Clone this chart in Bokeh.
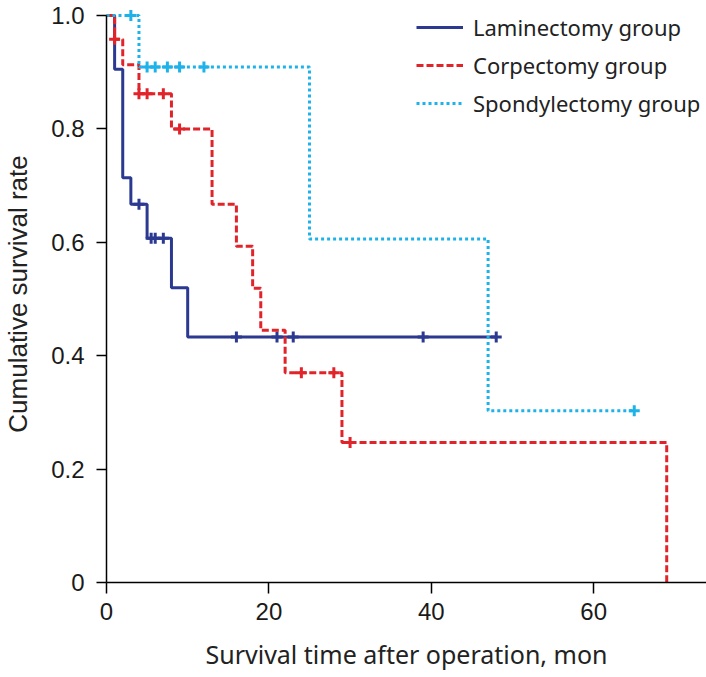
import numpy as np
from bokeh.plotting import figure
from bokeh.models import Range1d, FixedTicker, Legend, LegendItem
from bokeh.embed import file_html
from bokeh.resources import INLINE

# Kaplan-Meier step data (event times and survival after each step)
lam_t = [0, 1, 2, 3, 5, 8, 10, 48]
lam_s = [1.0, 0.905, 0.714, 0.667, 0.607, 0.520, 0.433, 0.433]
lam_cens = [4, 5.5, 6, 7, 16, 21, 23, 39, 48]

cor_t = [0, 1, 2, 4, 8, 13, 16, 18, 19, 22, 29, 69]
cor_s = [1.0, 0.958, 0.913, 0.862, 0.800, 0.667, 0.593, 0.519, 0.445, 0.370, 0.247, 0.0]
cor_cens = [1, 4, 5, 7, 9, 24, 28, 30]

spo_t = [0, 4, 25, 47, 65]
spo_s = [1.0, 0.909, 0.606, 0.303, 0.303]
spo_cens = [3, 5, 6, 7.5, 9, 12, 65]

labels = ["Laminectomy group", "Corpectomy group", "Spondylectomy group"]
x_ticks = [0, 20, 40, 60]
y_ticks = [0, 0.2, 0.4, 0.6, 0.8, 1.0]

TICKFONT = "Liberation Sans"
TEXTFONT = "Noto Sans"
colors = ["#2b3990", "#e0242a", "#1db2ea"]
dashes = ["solid", "7 3", "3 3"]

p = figure(width=706, height=677, output_backend="svg", toolbar_location=None,
           x_range=Range1d(0, 73.9), y_range=Range1d(0, 1.0176),
           min_border_left=105, min_border_right=0, min_border_top=5, min_border_bottom=95)
p.xgrid.visible = False
p.ygrid.visible = False
p.outline_line_color = None
p.background_fill_color = "white"

def surv_at(ts, ss, t):
    idx = np.searchsorted(np.array(ts), t, side="right") - 1
    return ss[idx]

items = []
for (ts, ss, cs), col, dash, lab in zip(
        [(lam_t, lam_s, lam_cens), (cor_t, cor_s, cor_cens), (spo_t, spo_s, spo_cens)],
        colors, dashes, labels):
    r = p.step(ts, ss, mode="after", line_color=col, line_width=3, line_dash=dash)
    cy = [surv_at(ts, ss, c) for c in cs]
    p.scatter(cs, cy, marker="cross", size=11, line_color=col, line_width=3)
    items.append(LegendItem(label=lab, renderers=[r]))

legend = Legend(items=items, location=(310, 464), padding=0, margin=0,
                border_line_color=None, background_fill_alpha=0,
                glyph_width=47, glyph_height=20, label_height=20, spacing=8,
                label_standoff=10, label_text_font=TEXTFONT, label_text_font_size="22px",
                label_text_color="#222222")
p.add_layout(legend, "center")

for ax in (p.xaxis[0], p.yaxis[0]):
    ax.axis_line_color = "black"
    ax.axis_line_width = 1.5
    ax.major_tick_line_color = "black"
    ax.major_tick_line_width = 1.5
    ax.major_tick_in = 0
    ax.minor_tick_line_color = None
    ax.major_label_text_font = TICKFONT
    ax.major_label_text_font_size = "24px"
    ax.major_label_text_color = "#1a1a1a"
    ax.axis_label_text_font_style = "normal"
    ax.axis_label_text_color = "#222222"

p.xaxis.major_tick_out = 11
p.yaxis.major_tick_out = 10
p.xaxis.ticker = FixedTicker(ticks=x_ticks)
p.yaxis.ticker = FixedTicker(ticks=y_ticks)
p.yaxis.major_label_overrides = {0: "0", 0.2: "0.2", 0.4: "0.4", 0.6: "0.6", 0.8: "0.8", 1.0: "1.0"}
p.yaxis.bounds = (0, 1.0)
p.xaxis.axis_label = "Survival time after operation, mon"
p.yaxis.axis_label = "Cumulative survival rate"
p.xaxis.axis_label_text_font = TEXTFONT
p.xaxis.axis_label_text_font_size = "25px"
p.yaxis.axis_label_text_font = TICKFONT
p.yaxis.axis_label_text_font_size = "26px"
p.xaxis.major_label_standoff = 9
p.yaxis.major_label_standoff = 12
p.xaxis.axis_label_standoff = 14
p.yaxis.axis_label_standoff = 15

open("out.html", "w").write(file_html(p, INLINE))
